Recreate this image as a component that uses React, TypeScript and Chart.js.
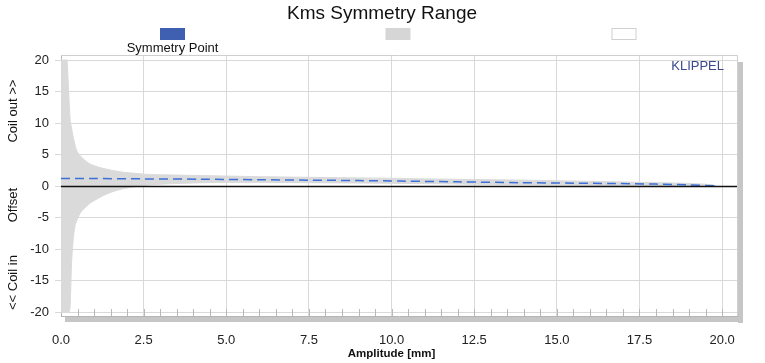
import React, { useEffect, useRef } from "react";
import { Chart, registerables } from "chart.js";

Chart.register(...registerables);

// ---------- data ----------
const chartTitle = "Kms Symmetry Range";
const xAxisTitle = "Amplitude [mm]";
const yAxisTitleParts = ["<< Coil in", "Offset", "Coil out >>"];
const yAxisTitleAt = [-15.3, -3.0, 11.9];

const xTicks = [0, 2.5, 5, 7.5, 10, 12.5, 15, 17.5, 20];
const yTicks = [-20, -15, -10, -5, 0, 5, 10, 15, 20];

// gray symmetry range band
const bandAmplitude = [0, 0.1, 0.18, 0.22, 0.27, 0.32, 0.37, 0.42, 0.47, 0.57, 0.77, 0.88, 1.0, 1.28, 1.5, 1.88, 2.3, 2.5, 3.0, 4.0, 5.0, 6.0, 7.5, 9.0, 10.0, 11.0, 12.5, 14.0, 15.0, 16.0, 17.5, 18.5, 19.5, 19.8];
const bandUpper = [20, 20, 20, 16.3, 11, 9.2, 7.8, 6.6, 5.7, 4.9, 3.9, 3.5, 3.25, 2.8, 2.55, 2.2, 2.0, 1.9, 1.8, 1.7, 1.6, 1.5, 1.4, 1.3, 1.25, 1.15, 1.05, 0.95, 0.85, 0.75, 0.6, 0.5, 0.3, 0.12];
const bandLower = [-20, -20, -20, -20, -19.5, -12.2, -8.5, -6.4, -5.6, -4.4, -3.2, -2.7, -2.3, -1.5, -1.0, -0.4, -0.05, 0.1, 0.3, 0.5, 0.6, 0.6, 0.55, 0.5, 0.45, 0.4, 0.3, 0.25, 0.2, 0.15, 0.05, 0.0, -0.05, -0.02];

// symmetry point curve
const symAmplitude = [0, 1, 2.5, 4.2, 6, 7.5, 9, 10.3, 12, 13.9, 15.5, 16.7, 18, 19, 19.8];
const symOffset = [1.22, 1.2, 1.15, 1.1, 1.02, 0.95, 0.88, 0.8, 0.68, 0.55, 0.47, 0.42, 0.32, 0.2, 0.05];

const legendLabels = ["Symmetry Point", "", ""];
const legendColors = ["#3f5fb0", "#d6d6d6", "#ffffff"];

const FONT = "'Liberation Sans', Arial, sans-serif";

const decorPlugin = {
  id: "decor",
  beforeDraw(chart: any) {
    const { ctx, chartArea: a } = chart;
    ctx.save();
    // shadow bars
    ctx.fillStyle = "#c6c6c6";
    ctx.fillRect(a.right + 1, a.top + 7, 5, a.bottom - a.top);
    ctx.fillRect(a.left + 4, a.bottom + 1, a.right - a.left + 2, 5);
    ctx.restore();
  },
  afterDatasetsDraw(chart: any) {
    const { ctx, chartArea: a, scales } = chart;
    const xs = scales.x;
    const ys = scales.y;
    ctx.save();
    // zero line
    const y0 = Math.round(ys.getPixelForValue(0)) + 0.5;
    ctx.strokeStyle = "#111";
    ctx.lineWidth = 1.4;
    ctx.beginPath();
    ctx.moveTo(a.left, y0);
    ctx.lineTo(a.right, y0);
    ctx.stroke();
    ctx.restore();
  },
  afterDraw(chart: any) {
    const { ctx, chartArea: a, scales } = chart;
    const xs = scales.x;
    const ys = scales.y;
    ctx.save();
    // border top/right
    ctx.strokeStyle = "#cfcfcf";
    ctx.lineWidth = 1;
    ctx.beginPath();
    ctx.moveTo(a.left, a.top + 0.5);
    ctx.lineTo(a.right + 0.5, a.top + 0.5);
    ctx.lineTo(a.right + 0.5, a.bottom);
    ctx.stroke();
    // minor ticks along bottom
    ctx.strokeStyle = "#b8b8b8";
    ctx.beginPath();
    for (let v = 0.5; v < xs.max; v += 0.5) {
      const px = Math.round(xs.getPixelForValue(v)) + 0.5;
      ctx.moveTo(px, a.bottom);
      ctx.lineTo(px, a.bottom - 7);
    }
    ctx.stroke();

    // title
    ctx.fillStyle = "#111";
    ctx.font = `19px ${FONT}`;
    ctx.textAlign = "center";
    ctx.textBaseline = "alphabetic";
    ctx.fillText(chartTitle, 382, 18.5);

    // legend
    const centers = [172.5, 398, 624];
    chart.data.datasets.forEach((_: any, i: number) => {});
    legendLabels.forEach((lab, i) => {
      const cx = centers[i];
      ctx.fillStyle = legendColors[i];
      ctx.fillRect(cx - 12.5, 28, 25, 12);
      if (legendColors[i] === "#ffffff") {
        ctx.strokeStyle = "#d0d0d0";
        ctx.strokeRect(cx - 12, 28.5, 24, 11);
      }
      if (lab) {
        ctx.fillStyle = "#111";
        ctx.font = `13px ${FONT}`;
        ctx.textAlign = "center";
        ctx.fillText(lab, cx, 51.5);
      }
    });

    // KLIPPEL
    ctx.fillStyle = "#3b4a8f";
    ctx.font = `13px ${FONT}`;
    ctx.textAlign = "right";
    ctx.fillText("KLIPPEL", 724, 69.5);

    // x axis title
    ctx.fillStyle = "#111";
    ctx.font = `bold 11.5px ${FONT}`;
    ctx.textAlign = "center";
    ctx.fillText(xAxisTitle, xs.getPixelForValue(10), 357);

    // y axis title parts
    ctx.font = `13px ${FONT}`;
    yAxisTitleParts.forEach((t, i) => {
      ctx.save();
      ctx.translate(17, ys.getPixelForValue(yAxisTitleAt[i]));
      ctx.rotate(-Math.PI / 2);
      ctx.textAlign = "center";
      ctx.textBaseline = "alphabetic";
      ctx.fillText(t, 0, 0);
      ctx.restore();
    });
    ctx.restore();
  },
};

export default function App() {
  const ref = useRef<HTMLCanvasElement | null>(null);
  useEffect(() => {
    if (!ref.current) return;
    const upper = bandAmplitude.map((x, i) => ({ x, y: bandUpper[i] }));
    const lower = bandAmplitude.map((x, i) => ({ x, y: bandLower[i] }));
    const sym = symAmplitude.map((x, i) => ({ x, y: symOffset[i] }));
    const chart = new Chart(ref.current, {
      type: "line",
      data: {
        datasets: [
          {
            label: legendLabels[0],
            data: sym,
            borderColor: "#3c6fd8",
            borderWidth: 1.5,
            borderDash: [9, 5],
            pointRadius: 0,
            fill: false,
            tension: 0.3,
          },
          {
            label: "upper",
            data: upper,
            borderColor: "#dadada",
            backgroundColor: "#dadada",
            borderWidth: 1,
            pointRadius: 0,
            fill: "+1",
            cubicInterpolationMode: "monotone",
          },
          {
            label: "lower",
            data: lower,
            borderColor: "#dadada",
            borderWidth: 1,
            pointRadius: 0,
            fill: false,
            cubicInterpolationMode: "monotone",
          },
        ],
      },
      options: {
        responsive: false,
        animation: false,
        layout: { padding: { left: 0, right: 28, top: 55, bottom: 0 } },
        plugins: {
          legend: { display: false },
          title: { display: false },
          tooltip: { enabled: false },
        },
        scales: {
          x: {
            type: "linear",
            min: 0,
            max: 20.45,
            afterFit: (s: any) => {
              s.height = 47;
            },
            afterBuildTicks: (s: any) => {
              s.ticks = xTicks.map((v) => ({ value: v }));
            },
            ticks: {
              callback: (v: any) => Number(v).toFixed(1),
              font: { family: FONT, size: 13 },
              color: "#222",
              padding: 17,
              maxRotation: 0,
              autoSkip: false,
            },
            grid: { color: "#d9d9d9", lineWidth: 1, drawTicks: false },
            border: { display: true, color: "#b5b5b5" },
          },
          y: {
            type: "linear",
            min: -20.6,
            max: 20.8,
            afterFit: (s: any) => {
              s.width = 61;
            },
            afterBuildTicks: (s: any) => {
              s.ticks = yTicks.map((v) => ({ value: v }));
            },
            ticks: {
              callback: (v: any) => String(v),
              font: { family: FONT, size: 13 },
              color: "#222",
              padding: 6,
            },
            grid: {
              color: "#d9d9d9",
              lineWidth: 1,
              drawTicks: true,
              tickLength: 6,
            },
            border: { display: true, color: "#b5b5b5" },
          },
        },
      },
      plugins: [decorPlugin],
    } as any);
    return () => chart.destroy();
  }, []);
  return (
    <div style={{ position: "fixed", left: 0, top: 0, width: 765, height: 363, background: "#fff" }}>
      <canvas ref={ref} width={765} height={363} style={{ display: "block", width: 765, height: 363 }} />
    </div>
  );
}
